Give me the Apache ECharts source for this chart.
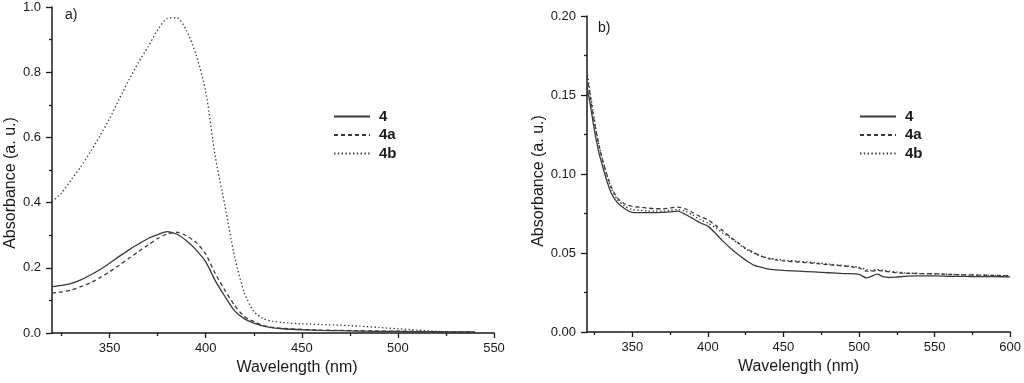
<!DOCTYPE html>
<html>
<head>
<meta charset="utf-8">
<script src="https://cdn.jsdelivr.net/npm/echarts@6/dist/echarts.min.js"></script>
<style>
html,body{margin:0;padding:0;background:#fff;}
#chart{width:1024px;height:383px;}
</style>
</head>
<body>
<div id="chart"></div>
<script>
// ---- Panel a) data ----
const seriesNames = ['4', '4a', '4b'];
const wlA = [320,325,330,335,340,345,350,355,360,365,370,375,380,385,390,395,400,405,410,415,420,425,430,435,440,450,460,470,480,490,500,510,520,530,540];
const a4  = [0.142,0.146,0.152,0.163,0.178,0.195,0.214,0.235,0.255,0.273,0.290,0.302,0.311,0.303,0.283,0.255,0.218,0.160,0.112,0.068,0.044,0.030,0.021,0.016,0.013,0.010,0.008,0.007,0.006,0.005,0.005,0.004,0.004,0.003,0.003];
const a4a = [0.122,0.126,0.132,0.142,0.154,0.170,0.188,0.208,0.229,0.250,0.270,0.290,0.304,0.309,0.298,0.278,0.242,0.182,0.131,0.085,0.051,0.035,0.023,0.017,0.014,0.011,0.009,0.008,0.007,0.006,0.006,0.005,0.004,0.003,0.003];
const a4b = [0.403,0.430,0.470,0.510,0.556,0.605,0.658,0.718,0.776,0.830,0.878,0.930,0.965,0.967,0.928,0.853,0.740,0.540,0.390,0.235,0.125,0.066,0.044,0.036,0.032,0.028,0.026,0.024,0.021,0.017,0.013,0.009,0.005,0.003,0.002];
const xTicksA = [350,400,450,500,550];
const xMinorA = [325,375,425,475,525];

// ---- Panel b) data ----
const wlB = [320,322,324,326,328,330,333,336,340,345,350,355,360,365,370,375,380,385,390,395,400,405,410,415,420,425,430,435,440,445,450,460,470,480,490,500,505,508,512,516,520,525,530,540,550,560,570,580,590,600];
const b4  = [0.155,0.145,0.133,0.122,0.113,0.106,0.096,0.088,0.082,0.078,0.0757,0.0755,0.0755,0.0755,0.0757,0.076,0.0765,0.0745,0.0718,0.069,0.067,0.0625,0.0575,0.053,0.049,0.0455,0.0425,0.041,0.0398,0.0393,0.039,0.0385,0.038,0.0375,0.037,0.0365,0.0342,0.0352,0.0366,0.035,0.0345,0.0348,0.0352,0.0355,0.0355,0.0353,0.0352,0.035,0.035,0.0349];
const b4a = [0.162,0.150,0.138,0.127,0.118,0.110,0.100,0.092,0.085,0.081,0.0795,0.079,0.0785,0.078,0.078,0.0785,0.079,0.078,0.0755,0.073,0.071,0.0675,0.064,0.060,0.0565,0.053,0.0505,0.048,0.0465,0.0457,0.045,0.0443,0.0435,0.0425,0.0418,0.0405,0.0385,0.0385,0.039,0.0385,0.038,0.0375,0.0372,0.037,0.0368,0.0365,0.0362,0.036,0.0358,0.0355];
const b4b = [0.165,0.152,0.140,0.128,0.118,0.110,0.100,0.091,0.084,0.0795,0.0775,0.077,0.0765,0.0765,0.0765,0.077,0.0775,0.0765,0.074,0.071,0.069,0.066,0.0625,0.0595,0.056,0.0525,0.050,0.048,0.0468,0.046,0.0455,0.0448,0.044,0.043,0.042,0.041,0.0395,0.039,0.0395,0.039,0.0385,0.038,0.0375,0.037,0.0368,0.0365,0.0362,0.036,0.0358,0.0356];
const xTicksB = [350,400,450,500,550,600];
const xMinorB = [325,375,425,475,525,575];

const FONT = '"Liberation Sans", Arial, sans-serif';
const INK = '#1a1a1a';
const LINE = '#3a3a3a';
const styles = [
  {type: 'solid', width: 1.3},
  {type: [4, 3], width: 1.3},
  {type: [1.4, 2.4], width: 1.3}
];

function pairs(xs, ys) { return xs.map((x, i) => [x, ys[i]]); }

function mainX(gridIndex, min, max, ticks, nameShift) {
  return {
    type: 'value', gridIndex, min, max, position: 'bottom',
    name: 'Wavelength (nm)', nameLocation: 'middle', nameGap: 24,
    nameTextStyle: {fontFamily: FONT, fontSize: 16, color: INK, padding: [0, 0, 0, nameShift]},
    axisLine: {show: true, lineStyle: {color: INK, width: 1.5}},
    axisTick: {show: true, inside: false, length: 5, customValues: ticks, lineStyle: {color: INK, width: 1.3}},
    axisLabel: {show: true, customValues: ticks, margin: 9, fontFamily: FONT, fontSize: 13, color: INK},
    splitLine: {show: false}
  };
}
function minorX(gridIndex, min, max, ticks) {
  return {
    type: 'value', gridIndex, min, max, position: 'bottom',
    axisLine: {show: false},
    axisTick: {show: true, inside: false, length: 3, customValues: ticks, lineStyle: {color: INK, width: 1.3}},
    axisLabel: {show: false},
    splitLine: {show: false}
  };
}
function mainY(gridIndex, min, max, interval, digits, pad, gap) {
  return {
    type: 'value', gridIndex, min, max, interval,
    name: 'Absorbance (a. u.)', nameLocation: 'middle', nameGap: gap, nameRotate: 90,
    nameTextStyle: {fontFamily: FONT, fontSize: 16, color: INK, padding: [0, pad, 0, 0]},
    axisLine: {show: true, lineStyle: {color: INK, width: 1.5}},
    axisTick: {show: true, inside: false, length: 6, lineStyle: {color: INK, width: 1.3}},
    minorTick: {show: true, splitNumber: 2, length: 3, lineStyle: {color: INK, width: 1.3}},
    axisLabel: {margin: 11, fontFamily: FONT, fontSize: 13, color: INK, formatter: v => v.toFixed(digits)},
    splitLine: {show: false}, minorSplitLine: {show: false}
  };
}
function lineSeries(name, idx, data, xi, yi) {
  return {
    name, type: 'line', xAxisIndex: xi, yAxisIndex: yi, data,
    showSymbol: false, symbol: 'none', smooth: 0.25, animation: false,
    itemStyle: {color: LINE},
    lineStyle: {color: LINE, width: styles[idx].width, type: styles[idx].type}
  };
}
function legendAt(left) {
  return {
    orient: 'vertical', left, top: 109, padding: 0, itemWidth: 36, itemHeight: 14, itemGap: 3.5,
    selectedMode: false,
    itemStyle: {opacity: 0},
    textStyle: {fontFamily: FONT, fontSize: 15, fontWeight: 'bold', color: INK, padding: [0, 0, 0, 4]},
    data: seriesNames.map(n => ({name: n}))
  };
}

const chart = echarts.init(document.getElementById('chart'), null, {renderer: 'canvas'});
chart.setOption({
  backgroundColor: '#fff',
  animation: false,
  title: [
    {text: 'a)', left: 65, top: 8, padding: 0, textStyle: {fontFamily: FONT, fontSize: 14, fontWeight: 'normal', color: INK}},
    {text: 'b)', left: 598, top: 21, padding: 0, textStyle: {fontFamily: FONT, fontSize: 14, fontWeight: 'normal', color: INK}}
  ],
  legend: [legendAt(333), legendAt(859)],
  grid: [
    {left: 52, right: 530, top: 7, bottom: 50},
    {left: 587, right: 11, top: 16, bottom: 51}
  ],
  xAxis: [
    mainX(0, 320, 550, xTicksA, 48), minorX(0, 320, 550, xMinorA),
    mainX(1, 320, 600, xTicksB, 0), minorX(1, 320, 600, xMinorB)
  ],
  yAxis: [
    mainY(0, 0, 1.0, 0.2, 1, 26, 29),
    mainY(1, 0, 0.2, 0.05, 2, 14, 38)
  ],
  series: [
    lineSeries(seriesNames[0], 0, pairs(wlA, a4), 0, 0),
    lineSeries(seriesNames[1], 1, pairs(wlA, a4a), 0, 0),
    lineSeries(seriesNames[2], 2, pairs(wlA, a4b), 0, 0),
    lineSeries(seriesNames[0], 0, pairs(wlB, b4), 2, 1),
    lineSeries(seriesNames[1], 1, pairs(wlB, b4a), 2, 1),
    lineSeries(seriesNames[2], 2, pairs(wlB, b4b), 2, 1)
  ]
});
</script>
</body>
</html>
